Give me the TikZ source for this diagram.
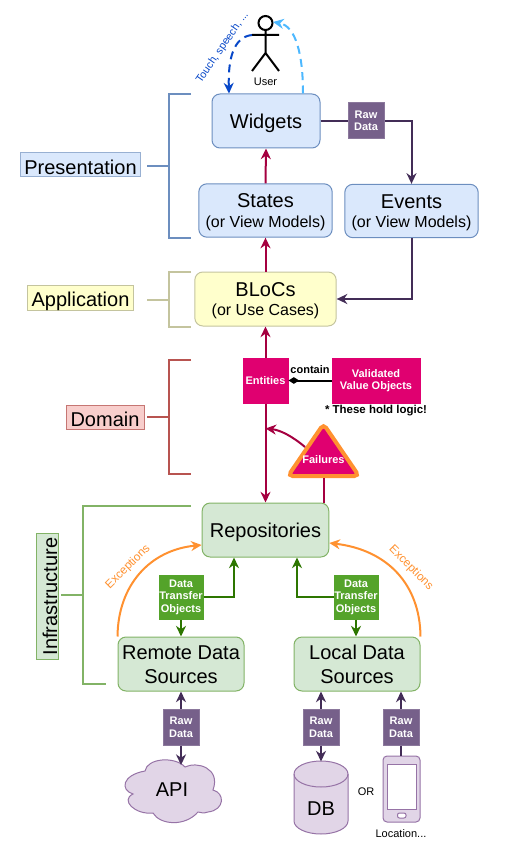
\documentclass[tikz,border=0pt]{standalone}
\usepackage{fontspec}
\setmainfont{Liberation Sans}
\usetikzlibrary{arrows.meta,calc}
\newcommand{\pxa}{\fontsize{15}{18}\selectfont}
\newcommand{\pxb}{\fontsize{12}{16.5}\selectfont}
\newcommand{\pxc}{\fontsize{8.25}{9.4}\selectfont}
\newcommand{\dn}[1]{\rule{0pt}{#1pt}}
\definecolor{bluef}{HTML}{DAE8FC}\definecolor{blues}{HTML}{6C8EBF}
\definecolor{yelf}{HTML}{FFFFCC}\definecolor{yels}{HTML}{C4C49E}
\definecolor{redf}{HTML}{F8CECC}\definecolor{reds}{HTML}{B85450}
\definecolor{grnf}{HTML}{D5E8D4}\definecolor{grns}{HTML}{82B366}
\definecolor{purf}{HTML}{76608A}\definecolor{purs}{HTML}{432D57}
\definecolor{lilf}{HTML}{E1D5E7}\definecolor{lils}{HTML}{9673A6}
\definecolor{pinkf}{HTML}{E00070}\definecolor{pinks}{HTML}{A50040}
\definecolor{dtof}{HTML}{54A32A}\definecolor{dtos}{HTML}{2D7600}
\definecolor{orng}{HTML}{FF9130}\definecolor{ltblue}{HTML}{4DB8FF}\definecolor{dkblue}{HTML}{0747C8}
\tikzset{
 box/.style={rounded corners=6pt,inner sep=0pt,align=center,line width=0.75pt,font=\pxa,text=black},
 bluebox/.style={box,draw=blues,fill=bluef},
 yelbox/.style={box,draw=yels,fill=yelf},
 grnbox/.style={box,draw=grns,fill=grnf},
 tagbox/.style={inner sep=0pt,align=center,line width=0.75pt,font=\bfseries\pxc,text=white},
 rawbox/.style={tagbox,draw=purf!85!white,fill=purf,minimum width=27pt,minimum height=27pt},
 dtobox/.style={tagbox,draw=dtof,fill=dtof,minimum width=33pt,minimum height=33pt},
 pinkbox/.style={tagbox,draw=pinkf,fill=pinkf,minimum height=33.75pt},
 layer/.style={inner sep=0pt,line width=0.75pt,font=\pxa,text=black},
 plain/.style={inner sep=0pt,font=\pxc,text=black},
 arr/.style={line width=1.5pt,-{Stealth[length=8pt,width=7.5pt,inset=2.6pt]}},
 bracket/.style={line width=1.5pt},
 line/.style={line width=1.5pt},
}
\begin{document}
\begin{tikzpicture}[x=0.75pt,y=-0.75pt]
\useasboundingbox (0,0) rectangle (507,852);
% Column references
\coordinate (cRepoL) at (234,0);
\coordinate (cRepoR) at (297,0);
\coordinate (cStem) at (323.5,0);
% Boxes
\node[bluebox,minimum width=81pt,minimum height=40.5pt] (widgets) at (266,121) {\dn{14}Widgets};
\node[bluebox,minimum width=100pt,minimum height=40pt] (states) at (265.5,210.5) {\dn{13.2}States\\[-3.25pt]{\pxb(or View Models)}};
\node[bluebox,minimum width=100pt,minimum height=40pt] (events) at (411.5,211) {\dn{13.2}Events\\[-3.25pt]{\pxb(or View Models)}};
\node[yelbox,minimum width=106pt,minimum height=40.5pt] (blocs) at (265.5,299) {\dn{13.2}BLoCs\\[-3.25pt]{\pxb(or Use Cases)}};
\node[grnbox,minimum width=95pt,minimum height=40.5pt] (repo) at (265.5,530) {\dn{14}Repositories};
\node[grnbox,minimum width=94.5pt,minimum height=40.5pt] (remote) at (181,664) {\dn{12}Remote Data\\Sources};
\node[grnbox,minimum width=94.5pt,minimum height=40.5pt] (local) at (357,664) {\dn{12}Local Data\\Sources};
\node[pinkbox,minimum width=33.75pt] (entities) at (265.5,380.5) {Entities};
\node[pinkbox,minimum width=66pt] (vvo) at (376,380.5) {Validated\\Value Objects};
\node[rawbox] (rawT) at (366,121) {Raw\\Data};
\node[rawbox] (rawA) at (181,727) {Raw\\Data};
\node[rawbox] (rawD) at (321,727) {Raw\\Data};
\node[rawbox] (rawL) at (401,727) {Raw\\Data};
\node[dtobox] (dtoL) at (181,597) {Data\\Transfer\\Objects};
\node[dtobox] (dtoR) at (356,597) {Data\\Transfer\\Objects};
% Failures triangle
\draw[orng,fill=pinkf,line width=3pt,rounded corners=3.5pt] (323.5,424) -- (359,476) -- (288,476) -- cycle;
\node[plain,font=\bfseries\pxc,text=white] (failures) at (323.5,460) {Failures};
\coordinate (failBase) at (323.5,478);
\coordinate (failSide) at (305,447);
% Layer labels
\node[layer,draw=blues!70,fill=bluef,minimum width=90.5pt,minimum height=18pt] (lpres) at (80.5,164.5) {\dn{14.5}Presentation};
\node[layer,draw=yels,fill=yelf,minimum width=80pt,minimum height=18pt] (lapp) at (80.5,298) {\dn{16}Application};
\node[layer,draw=reds!80,fill=redf,minimum width=58.5pt,minimum height=18pt] (ldom) at (105,417) {\dn{15}Domain};
\node[layer,draw=grns,fill=grnf,minimum width=94pt,minimum height=17pt,rotate=90] (linf) at (47.5,596.5) {\dn{14.5}Infrastructure};
% Brackets
\draw[bracket,blues] (191,94) -- (169,94) -- (169,238) -- (191,238);
\draw[bracket,blues] (147,166) -- (169,166);
\draw[bracket,yels] (191,272) -- (169,272) -- (169,327) -- (191,327);
\draw[bracket,yels] (147,300) -- (169,300);
\draw[bracket,reds] (191,360) -- (169,360) -- (169,474) -- (191,474);
\draw[bracket,reds] (147,417) -- (169,417);
\draw[bracket,grns] (191,506) -- (83,506) -- (83,684) -- (106,684);
\draw[bracket,grns] (61,595) -- (83,595);
% Person
\draw[line width=1.5pt,black] (265.5,23) circle (7);
\coordinate (userHand) at (252,35);
\coordinate (userHead) at (273,22);
\draw[line width=1.5pt,black] (265.5,30) -- (265.5,53) (252,35) -- (279,35) (252,71) -- (265.5,53) -- (279,71);
\node[plain] (user) at (265.5,82) {User};
\draw[arr,dkblue,dashed,dash pattern=on 6pt off 4pt] (userHand) .. controls (233,37) and (228,60) .. ($(widgets.north)+(-37,0)$);
\draw[arr,ltblue,dashed,dash pattern=on 6pt off 4pt] ($(widgets.north)+(37,0)$) .. controls (303,55) and (296,26) .. (userHead);
\node[plain,font=\fontsize{8}{9.4}\selectfont,text=dkblue,rotate=55.5] (touch) at (222.5,47.5) {Touch, speech, ...};
% Presentation flow
\draw[line,purs] (widgets.east) -- (rawT.west);
\draw[arr,purs] (rawT.east) -| (events.north);
\draw[arr,purs] (events.south) |- (blocs.east);
\draw[arr,pinks] (states.north) -- (widgets.south);
\draw[arr,pinks] (blocs.north) -- (states.south);
\draw[arr,pinks] (entities.north) -- (blocs.south);
\draw[arr,pinks] (entities.south) -- (repo.north);
\draw[line,pinks] (repo.north -| cStem) -- (failBase);
\draw[arr,pinks] (failSide) .. controls (292,436) and (280,430) .. ($(entities.south)+(0,25)$);
% Contain
\draw[line width=1.5pt,black,-{Diamond[length=8pt,width=5pt]}] (vvo.west) -- (entities.east);
\node[plain,font=\bfseries\pxc] (contain) at (310,370) {contain};
\node[plain,font=\bfseries\fontsize{8.6}{10}\selectfont] (note) at (376,411) {* These hold logic!};
% DTO arrows
\draw[arr,dtos] (dtoL.east) -| (repo.south -| cRepoL);
\draw[arr,dtos] (dtoR.west) -| (repo.south -| cRepoR);
\draw[arr,dtos] (dtoL.south) -- (remote.north);
\draw[arr,dtos] (dtoR.south) -- (dtoR.south |- local.north);
% Exceptions
\draw[arr,orng] ($(remote.north west)+(0,0)$) .. controls (118,585) and (150,550) .. ($(repo.west)+(0,15)$);
\draw[arr,orng] ($(local.north east)+(0,0)$) .. controls (420,585) and (388,550) .. ($(repo.east)+(0,13)$);
\node[plain,font=\fontsize{8.8}{10}\selectfont,text=orng,rotate=45] (excL) at (128,567) {Exceptions};
\node[plain,font=\fontsize{8.8}{10}\selectfont,text=orng,rotate=-45] (excR) at (411,568) {Exceptions};
% Cloud
\draw[lils,fill=lilf,line width=0.75pt] (145,771)
 .. controls (147,758) and (175,756) .. (185,767)
 .. controls (197,761) and (221,768) .. (213,790)
 .. controls (225,793) and (225,810) .. (208,812)
 .. controls (203,814) and (200,812) .. (198,812)
 .. controls (185,827) and (160,825) .. (153,813)
 .. controls (135,815) and (120,800) .. (133,794)
 .. controls (120,790) and (122,775) .. (145,771) -- cycle;
\node[inner sep=0pt,font=\pxa,text=black] (api) at (172,790) {API};
\coordinate (apiTop) at (181,765);
% DB
\draw[lils,fill=lilf,line width=0.75pt] (294,774) -- (294,821) arc[start angle=180,end angle=0,x radius=27,y radius=13] -- (348,774) arc[start angle=0,end angle=-180,x radius=27,y radius=13] -- cycle;
\draw[lils,line width=0.75pt] (294,774) arc[start angle=180,end angle=0,x radius=27,y radius=13];
\node[inner sep=0pt,font=\pxa,text=black] (db) at (321,809) {DB};
\coordinate (dbTop) at (321,761.5);
\node[plain] (orl) at (366,792) {OR};
% Phone
\draw[lils,fill=lilf,line width=0.75pt,rounded corners=3pt] (383,756) rectangle (420,822);
\draw[lils,fill=white,line width=0.75pt] (387,764) rectangle (416,809);
\draw[lils,fill=white,line width=0.75pt,rounded corners=1.5pt] (397.5,813) rectangle (406,818);
\coordinate (phoneTop) at (401,756);
\node[plain] (loc) at (401,834) {Location...};
% Raw data arrows
\draw[arr,purs] (rawA.north) -- (remote.south);
\draw[arr,purs] (rawA.south) -- (apiTop);
\draw[arr,purs] (rawD.north) -- (rawD.north |- local.south);
\draw[arr,purs] (rawD.south) -- (dbTop);
\draw[arr,purs] (rawL.north) -- (rawL.north |- local.south);
\draw[line,purs] (rawL.south) -- (phoneTop);
\end{tikzpicture}
\end{document}
